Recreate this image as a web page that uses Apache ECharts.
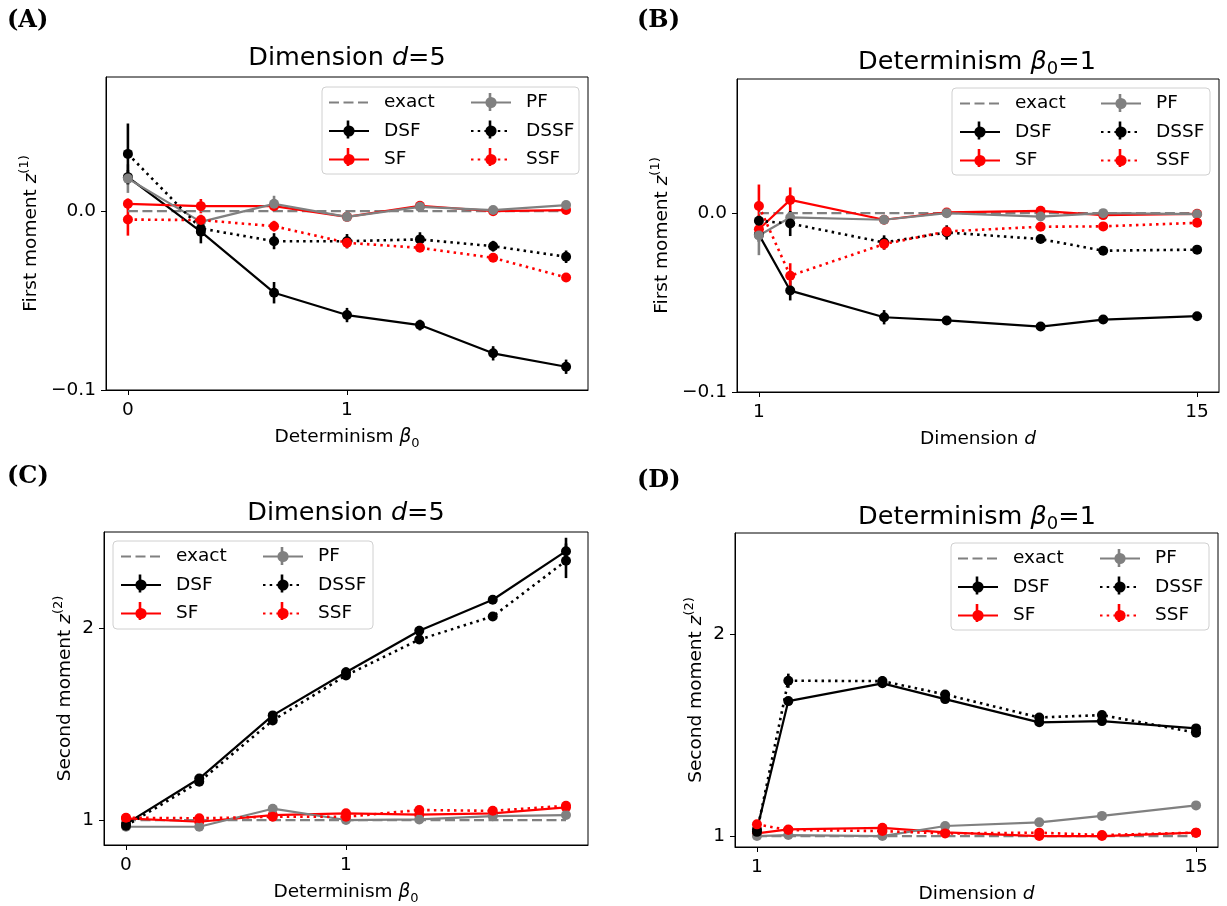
<!DOCTYPE html>
<html><head><meta charset="utf-8">
<script src="https://cdn.jsdelivr.net/npm/echarts@6/dist/echarts.min.js"></script>
<style>html,body{margin:0;padding:0;background:#fff}#c{width:1227px;height:906px}</style>
</head><body><div id="c"></div>
<script>
// ---------- data ----------
const betaX = [0, 0.333, 0.667, 1, 1.333, 1.667, 2];
const dimX = [1, 2, 5, 7, 10, 12, 15];
const seriesNames = ['exact', 'DSF', 'SF', 'PF', 'DSSF', 'SSF'];

// (A) first moment vs beta0, d=5
const A_exact = [0, 0, 0, 0, 0, 0, 0];
const A_DSF = [0.019, -0.0115, -0.0456, -0.0581, -0.0637, -0.0795, -0.087];
const A_DSF_err = [0.004, 0.0065, 0.006, 0.004, 0.003, 0.004, 0.004];
const A_SF = [0.0041, 0.0028, 0.0028, -0.0032, 0.003, 0.0, 0.0006];
const A_SF_err = [0.003, 0.004, 0.002, 0.002, 0.002, 0.002, 0.002];
const A_PF = [0.0182, -0.006, 0.0041, -0.0032, 0.0024, 0.0006, 0.0034];
const A_PF_err = [0.008, 0.003, 0.0045, 0.002, 0.002, 0.002, 0.002];
const A_DSSF = [0.032, -0.0097, -0.0168, -0.0168, -0.0158, -0.0196, -0.0255];
const A_DSSF_err = [0.017, 0.004, 0.0045, 0.004, 0.004, 0.003, 0.0035];
const A_SSF = [-0.0047, -0.005, -0.0084, -0.0177, -0.0205, -0.0261, -0.0371];
const A_SSF_err = [0.009, 0.003, 0.003, 0.003, 0.002, 0.002, 0.002];

// (B) first moment vs d, beta0=1
const B_exact = [0, 0, 0, 0, 0, 0, 0];
const B_DSF = [-0.012, -0.0433, -0.0582, -0.060, -0.0634, -0.0595, -0.0576];
const B_DSF_err = [0.004, 0.0055, 0.004, 0.002, 0.002, 0.002, 0.002];
const B_SF = [-0.009, 0.0074, -0.0037, 0.0004, 0.0013, -0.0011, -0.0004];
const B_SF_err = [0.004, 0.007, 0.002, 0.002, 0.002, 0.002, 0.002];
const B_PF = [-0.0125, -0.0024, -0.0037, 0.0, -0.0019, 0.0, -0.0006];
const B_PF_err = [0.011, 0.003, 0.002, 0.002, 0.002, 0.002, 0.002];
const B_DSSF = [-0.0043, -0.0058, -0.0164, -0.0108, -0.0145, -0.021, -0.0204];
const B_DSSF_err = [0.003, 0.007, 0.004, 0.004, 0.002, 0.002, 0.002];
const B_SSF = [0.004, -0.035, -0.0173, -0.0102, -0.0076, -0.0074, -0.0054];
const B_SSF_err = [0.012, 0.007, 0.003, 0.002, 0.002, 0.002, 0.002];

// (C) second moment vs beta0, d=5
const C_exact = [1, 1, 1, 1, 1, 1, 1];
const C_DSF = [0.98, 1.216, 1.545, 1.77, 1.986, 2.147, 2.40];
const C_DSF_err = [0.015, 0.02, 0.02, 0.025, 0.025, 0.02, 0.07];
const C_SF = [1.009, 0.991, 1.026, 1.035, 1.028, 1.035, 1.066];
const C_SF_err = [0.01, 0.01, 0.01, 0.01, 0.01, 0.01, 0.01];
const C_PF = [0.965, 0.965, 1.059, 1.0, 1.003, 1.02, 1.026];
const C_PF_err = [0.01, 0.01, 0.01, 0.01, 0.01, 0.01, 0.01];
const C_DSSF = [0.97, 1.199, 1.519, 1.753, 1.94, 2.06, 2.35];
const C_DSSF_err = [0.015, 0.02, 0.02, 0.02, 0.02, 0.015, 0.09];
const C_SSF = [1.012, 1.009, 1.017, 1.017, 1.052, 1.048, 1.074];
const C_SSF_err = [0.01, 0.01, 0.01, 0.01, 0.01, 0.01, 0.01];

// (D) second moment vs d, beta0=1
const D_exact = [1, 1, 1, 1, 1, 1, 1];
const D_DSF = [1.033, 1.668, 1.756, 1.678, 1.563, 1.569, 1.533];
const D_DSF_err = [0.02, 0.02, 0.02, 0.02, 0.02, 0.02, 0.02];
const D_SF = [1.013, 1.033, 1.041, 1.018, 1.0, 1.0, 1.017];
const D_SF_err = [0.01, 0.01, 0.01, 0.01, 0.01, 0.01, 0.01];
const D_PF = [1.0, 1.005, 1.0, 1.05, 1.068, 1.10, 1.152];
const D_PF_err = [0.005, 0.005, 0.005, 0.005, 0.005, 0.005, 0.005];
const D_DSSF = [1.021, 1.769, 1.767, 1.701, 1.587, 1.599, 1.512];
const D_DSSF_err = [0.02, 0.035, 0.025, 0.02, 0.02, 0.02, 0.02];
const D_SSF = [1.058, 1.03, 1.025, 1.013, 1.017, 1.005, 1.017];
const D_SSF_err = [0.01, 0.01, 0.01, 0.01, 0.01, 0.01, 0.01];

// tick values and labels
const A_xTicks = [0, 1], A_xLabels = ['0', '1'];
const A_yTicks = [-0.1, 0], A_yLabels = ['\u22120.1', '0.0'];
const B_xTicks = [1, 15], B_xLabels = ['1', '15'];
const B_yTicks = [-0.1, 0], B_yLabels = ['\u22120.1', '0.0'];
const C_xTicks = [0, 1], C_xLabels = ['0', '1'];
const C_yTicks = [1, 2], C_yLabels = ['1', '2'];
const D_xTicks = [1, 15], D_xLabels = ['1', '15'];
const D_yTicks = [1, 2], D_yLabels = ['1', '2'];

// ---------- styles / layout ----------
const FONT = 'DejaVu Sans';
const FS = 18.5;
const STY = {
  exact: { color: '#808080', type: [10, 4.5], width: 2.2, symbol: 'none' },
  DSF:   { color: '#000000', type: 'solid', width: 2.2, symbol: 'circle' },
  SF:    { color: '#ff0000', type: 'solid', width: 2.2, symbol: 'circle' },
  PF:    { color: '#808080', type: 'solid', width: 2.2, symbol: 'circle' },
  DSSF:  { color: '#000000', type: [2.5, 4.2], width: 2.6, symbol: 'circle' },
  SSF:   { color: '#ff0000', type: [2.5, 4.2], width: 2.6, symbol: 'circle' }
};
const rich = {
  n: { fontFamily: FONT, fontSize: FS, color: '#000', lineHeight: 26, fontWeight: 'normal' },
  i: { fontFamily: FONT, fontSize: FS, color: '#000', fontStyle: 'italic', lineHeight: 26, fontWeight: 'normal' },
  sup: { fontFamily: FONT, fontSize: 13, color: '#000', verticalAlign: 'top', lineHeight: 14, fontWeight: 'normal' },
  sub: { fontFamily: FONT, fontSize: 13, color: '#000', verticalAlign: 'bottom', lineHeight: 14, fontWeight: 'normal' },
  tn: { fontFamily: FONT, fontSize: 25.5, color: '#000', lineHeight: 32, fontWeight: 'normal' },
  ti: { fontFamily: FONT, fontSize: 25.5, color: '#000', fontStyle: 'italic', lineHeight: 32, fontWeight: 'normal' },
  tsub: { fontFamily: FONT, fontSize: 18, color: '#000', verticalAlign: 'bottom', lineHeight: 19, fontWeight: 'normal' }
};

const panels = [
  { x: betaX, xr: [-0.1, 2.1], yr: [-0.1, 0.075], xt: [A_xTicks, A_xLabels], yt: [A_yTicks, A_yLabels],
    grid: { left: 106, top: 77, width: 482, height: 313 },
    d: { exact: [A_exact], DSF: [A_DSF, A_DSF_err], SF: [A_SF, A_SF_err], PF: [A_PF, A_PF_err], DSSF: [A_DSSF, A_DSSF_err], SSF: [A_SSF, A_SSF_err] },
    xName: '{n|Determinism }{i|β}{sub|0}', yName: '{n|First moment }{i|z}{sup|(1)}', yGap: 62,
    title: '{tn|Dimension }{ti|d}{tn|=5}', tx: 347, ty: 58, label: '(A)', lx: 7, ly: 21,
    leg: { x: 322, y: 87, w: 257, h: 87, c1: 328, c2: 470, r1: 102 } },
  { x: dimX, xr: [0.3, 15.7], yr: [-0.1, 0.075], xt: [B_xTicks, B_xLabels], yt: [B_yTicks, B_yLabels],
    grid: { left: 737, top: 79, width: 482, height: 313 },
    d: { exact: [B_exact], DSF: [B_DSF, B_DSF_err], SF: [B_SF, B_SF_err], PF: [B_PF, B_PF_err], DSSF: [B_DSSF, B_DSSF_err], SSF: [B_SSF, B_SSF_err] },
    xName: '{n|Dimension }{i|d}', yName: '{n|First moment }{i|z}{sup|(1)}', yGap: 62,
    title: '{tn|Determinism }{ti|β}{tsub|0}{tn|=1}', tx: 977, ty: 62, label: '(B)', lx: 637, ly: 21,
    leg: { x: 952, y: 88, w: 258, h: 87, c1: 959, c2: 1100, r1: 103 } },
  { x: betaX, xr: [-0.1, 2.1], yr: [0.87, 2.5], xt: [C_xTicks, C_xLabels], yt: [C_yTicks, C_yLabels],
    grid: { left: 104, top: 532, width: 484, height: 314 },
    d: { exact: [C_exact], DSF: [C_DSF, C_DSF_err], SF: [C_SF, C_SF_err], PF: [C_PF, C_PF_err], DSSF: [C_DSSF, C_DSSF_err], SSF: [C_SSF, C_SSF_err] },
    xName: '{n|Determinism }{i|β}{sub|0}', yName: '{n|Second moment }{i|z}{sup|(2)}', yGap: 26,
    title: '{tn|Dimension }{ti|d}{tn|=5}', tx: 346, ty: 513, label: '(C)', lx: 7, ly: 477,
    leg: { x: 113, y: 541, w: 260, h: 88, c1: 120, c2: 262, r1: 556 } },
  { x: dimX, xr: [0.3, 15.7], yr: [0.946, 2.5], xt: [D_xTicks, D_xLabels], yt: [D_yTicks, D_yLabels],
    grid: { left: 735, top: 533, width: 483, height: 314 },
    d: { exact: [D_exact], DSF: [D_DSF, D_DSF_err], SF: [D_SF, D_SF_err], PF: [D_PF, D_PF_err], DSSF: [D_DSSF, D_DSSF_err], SSF: [D_SSF, D_SSF_err] },
    xName: '{n|Dimension }{i|d}', yName: '{n|Second moment }{i|z}{sup|(2)}', yGap: 26,
    title: '{tn|Determinism }{ti|β}{tsub|0}{tn|=1}', tx: 977, ty: 517, label: '(D)', lx: 637, ly: 481,
    leg: { x: 951, y: 543, w: 258, h: 87, c1: 957, c2: 1099, r1: 558 } }
];

const grids = [], xAxes = [], yAxes = [], series = [], titles = [], legends = [], graphics = [];
function labelMap(ticks, labels) { return v => { for (let k = 0; k < ticks.length; k++) if (Math.abs(ticks[k] - v) < 1e-9) return labels[k]; return ''; }; }

panels.forEach((p, pi) => {
  grids.push(Object.assign({ show: true, borderColor: '#000', borderWidth: 1, backgroundColor: 'transparent' }, p.grid));
  const axisCommon = {
    axisLine: { show: true, onZero: false, lineStyle: { color: '#000', width: 1 } },
    axisTick: { show: true, length: 5, lineStyle: { color: '#000', width: 1 } },
    splitLine: { show: false },
    nameLocation: 'middle',
    nameTextStyle: { rich: rich }
  };
  xAxes.push(Object.assign({}, axisCommon, {
    type: 'value', gridIndex: pi, min: p.xr[0], max: p.xr[1],
    axisTick: Object.assign({}, axisCommon.axisTick, { customValues: p.xt[0] }),
    axisLabel: { customValues: p.xt[0], formatter: labelMap(p.xt[0], p.xt[1]), fontFamily: FONT, fontSize: FS, color: '#000', margin: 11 },
    name: p.xName, nameGap: 34
  }));
  yAxes.push(Object.assign({}, axisCommon, {
    type: 'value', gridIndex: pi, min: p.yr[0], max: p.yr[1],
    axisTick: Object.assign({}, axisCommon.axisTick, { customValues: p.yt[0] }),
    axisLabel: { customValues: p.yt[0], formatter: labelMap(p.yt[0], p.yt[1]), fontFamily: FONT, fontSize: FS, color: '#000', margin: 10 },
    name: p.yName, nameGap: p.yGap, nameRotate: 90
  }));
  seriesNames.forEach(nm => {
    const s = STY[nm];
    const vals = p.d[nm][0], errs = p.d[nm][1];
    if (errs) {
      series.push({
        type: 'custom', name: nm + ' err', xAxisIndex: pi, yAxisIndex: pi, silent: true,
        data: p.x.map((xv, k) => [xv, vals[k] - errs[k], vals[k] + errs[k]]),
        encode: { x: 0, y: [1, 2] },
        renderItem: (params, api) => {
          const a = api.coord([api.value(0), api.value(1)]);
          const b = api.coord([api.value(0), api.value(2)]);
          return { type: 'line', shape: { x1: a[0], y1: a[1], x2: b[0], y2: b[1] }, style: { stroke: s.color, lineWidth: 2.6 } };
        }
      });
    }
    series.push({
      type: 'line', name: nm, xAxisIndex: pi, yAxisIndex: pi,
      data: p.x.map((xv, k) => [xv, vals[k]]),
      symbol: s.symbol, symbolSize: 10, showSymbol: s.symbol !== 'none',
      lineStyle: { color: s.color, type: s.type, width: s.width, cap: 'butt' },
      itemStyle: { color: s.color, borderWidth: 0 },
      emphasis: { disabled: true }, animation: false
    });
  });
  titles.push({ text: p.title, left: p.tx, top: p.ty, textAlign: 'center', textVerticalAlign: 'middle', padding: 0,
    textStyle: { fontWeight: 'normal', rich: rich } });
  titles.push({ text: p.label, left: p.lx, top: p.ly, textVerticalAlign: 'middle', padding: 0,
    textStyle: { fontFamily: 'DejaVu Serif', fontWeight: 'bold', fontSize: 24, color: '#000' } });
  const L = p.leg;
  graphics.push({ type: 'rect', z: 50, shape: { x: L.x, y: L.y, width: L.w, height: L.h, r: 4 },
    style: { fill: 'rgba(255,255,255,0.8)', stroke: '#d0d0d0', lineWidth: 1 } });
  // error-bar strokes of the legend handles (style only)
  const handleBars = [[L.c1, 1, STY.DSF.color], [L.c1, 2, STY.SF.color], [L.c2, 0, STY.PF.color], [L.c2, 1, STY.DSSF.color], [L.c2, 2, STY.SSF.color]];
  handleBars.forEach(hb => {
    const cx = hb[0] + 20, cy = L.r1 + hb[1] * 27.5;
    graphics.push({ type: 'line', z: 70, shape: { x1: cx, y1: cy - 9, x2: cx, y2: cy + 9 }, style: { stroke: hb[2], lineWidth: 2.6 } });
  });
  const legCommon = { orient: 'vertical', itemWidth: 40, itemHeight: 14, itemGap: 9.5, top: L.r1 - 9, padding: 0, z: 60,
    selectedMode: false, textStyle: { fontFamily: FONT, fontSize: FS, color: '#000', lineHeight: 18, padding: [0, 0, 0, 10] } };
  legends.push(Object.assign({}, legCommon, { left: L.c1, data: [{ name: 'exact', itemStyle: { opacity: 0 } }, 'DSF', 'SF'] }));
  legends.push(Object.assign({}, legCommon, { left: L.c2, data: ['PF', 'DSSF', 'SSF'] }));
});

const chart = echarts.init(document.getElementById('c'), null, { renderer: 'canvas' });
chart.setOption({
  animation: false,
  backgroundColor: '#fff',
  grid: grids, xAxis: xAxes, yAxis: yAxes, series: series,
  title: titles, legend: legends,
  graphic: { elements: graphics }
});
</script></body></html>
